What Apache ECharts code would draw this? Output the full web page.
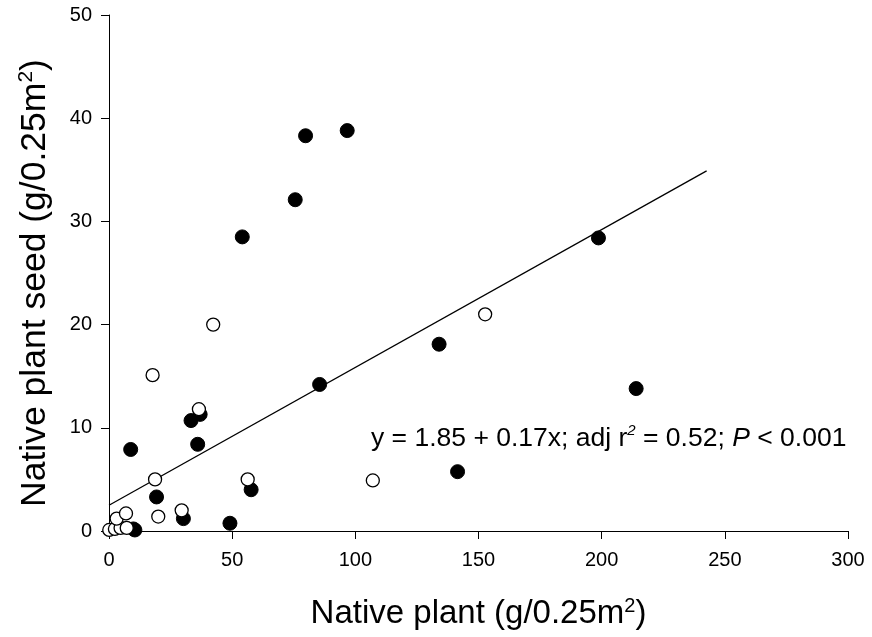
<!DOCTYPE html>
<html>
<head>
<meta charset="utf-8">
<script src="https://cdn.jsdelivr.net/npm/echarts@6/dist/echarts.min.js"></script>
<style>
  html, body { margin: 0; padding: 0; background: #fff; }
  #chart { width: 872px; height: 637px; }
</style>
</head>
<body>
<div id="chart"></div>
<script>
// Native plant biomass (x) vs native plant seed biomass (y), both g/0.25m^2
const xTicks = [0, 50, 100, 150, 200, 250, 300];
const yTicks = [0, 10, 20, 30, 40, 50];

// Filled circles
const filledX = [9.9, 10.5, 8.8, 19.3, 30.2, 49.1, 57.7, 36.0, 33.3, 37.0, 54.1, 75.6, 79.8, 96.7, 85.5, 134.0, 141.5, 198.7, 214.0];
const filledY = [0.2, 0.1, 7.9, 3.3, 1.2, 0.75, 4.0, 8.4, 10.7, 11.3, 28.5, 32.1, 38.3, 38.8, 14.2, 18.1, 5.75, 28.4, 13.8];

// Open circles
const openX = [0.1, 2.4, 4.7, 7.2, 3.1, 6.9, 20.0, 29.5, 18.7, 56.3, 36.5, 17.7, 42.3, 107.1, 152.7];
const openY = [0.1, 0.2, 0.3, 0.3, 1.2, 1.7, 1.4, 2.0, 5.0, 5.0, 11.8, 15.1, 20.0, 4.9, 21.0];

// Fitted line end points
const fitX = [0, 242.6];
const fitY = [2.5, 34.9];

const FONT = '"Liberation Sans", Arial, sans-serif';
const zip = (xs, ys) => xs.map((x, i) => [x, ys[i]]);

const chart = echarts.init(document.getElementById('chart'), null, { renderer: 'canvas' });

const xTitleRich = {
  a: { fontFamily: FONT, fontSize: 33, color: '#000', lineHeight: 36 },
  s: { fontFamily: FONT, fontSize: 20, color: '#000', lineHeight: 36, verticalAlign: 'top', padding: [0, 0, 16, 0] }
};
const yTitleRich = {
  a: { fontFamily: FONT, fontSize: 35.5, color: '#000', lineHeight: 38 },
  s: { fontFamily: FONT, fontSize: 21, color: '#000', lineHeight: 38, verticalAlign: 'top', padding: [0, 0, 17, 0] }
};

const axisCommon = {
  axisLine: { show: true, lineStyle: { color: '#000', width: 1 } },
  axisTick: { show: true, inside: false, length: 8, lineStyle: { color: '#000', width: 1 } },
  splitLine: { show: false },
  nameLocation: 'middle'
};

chart.setOption({
  backgroundColor: '#fff',
  animation: false,
  grid: { left: 109, right: 24, top: 15, bottom: 106, containLabel: false, outerBoundsMode: 'none' },
  xAxis: Object.assign({}, axisCommon, {
    type: 'value',
    min: xTicks[0],
    max: xTicks[xTicks.length - 1],
    interval: 50,
    axisLabel: { color: '#000', fontFamily: FONT, fontSize: 20, margin: 19 },
    name: '{a|Native plant (g/0.25m}{s|2}{a|)}',
    nameGap: 65,
    nameTextStyle: { rich: xTitleRich }
  }),
  yAxis: Object.assign({}, axisCommon, {
    type: 'value',
    min: yTicks[0],
    max: yTicks[yTicks.length - 1],
    interval: 10,
    axisLabel: { color: '#000', fontFamily: FONT, fontSize: 20, margin: 17 },
    name: '{a|Native plant seed (g/0.25m}{s|2}{a|)}',
    nameGap: 55,
    nameRotate: 90,
    nameTextStyle: { rich: yTitleRich, padding: [0, 20, 0, 0] }
  }),
  series: [
    {
      type: 'line',
      data: zip(fitX, fitY),
      showSymbol: false,
      symbol: 'none',
      lineStyle: { color: '#000', width: 1.3 },
      z: 1,
      silent: true
    },
    {
      type: 'scatter',
      data: zip(filledX, filledY),
      symbol: 'circle',
      symbolSize: 14,
      clip: false,
      itemStyle: { color: '#000', borderColor: '#000', borderWidth: 1, opacity: 1 },
      z: 2
    },
    {
      type: 'scatter',
      data: zip(openX, openY),
      symbol: 'circle',
      symbolSize: 13,
      clip: false,
      itemStyle: { color: '#fff', borderColor: '#000', borderWidth: 1.3, opacity: 1 },
      z: 3
    }
  ],
  graphic: [
    {
      type: 'text',
      left: 371,
      top: 423,
      style: {
        text: '{a|y = 1.85 + 0.17x; adj r}{s|2}{a| = 0.52; }{i|P}{a| < 0.001}',
        rich: {
          a: { fontFamily: FONT, fontSize: 26.5, fill: '#000', lineHeight: 32 },
          i: { fontFamily: FONT, fontSize: 26.5, fontStyle: 'italic', fill: '#000', lineHeight: 32 },
          s: { fontFamily: FONT, fontSize: 15, fontStyle: 'italic', fill: '#000', lineHeight: 32, verticalAlign: 'top', padding: [0, 0, 14, 0] }
        }
      },
      z: 10
    }
  ]
});
</script>
</body>
</html>
